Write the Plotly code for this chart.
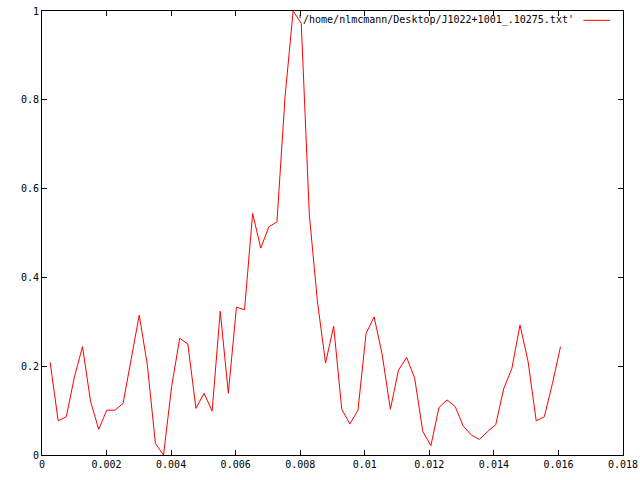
import plotly.graph_objects as go

# sample times (s)
x_vals = [0.000251, 0.000502, 0.000753, 0.001004, 0.001255, 0.001506, 0.001757, 0.002008,
          0.002259, 0.00251, 0.002761, 0.003012, 0.003263, 0.003514, 0.003765, 0.004016,
          0.004267, 0.004518, 0.004769, 0.00502, 0.005271, 0.005522, 0.005773, 0.006024,
          0.006275, 0.006526, 0.006777, 0.007028, 0.007279, 0.00753, 0.007781, 0.008032,
          0.008283, 0.008534, 0.008785, 0.009036, 0.009287, 0.009538, 0.009789, 0.01004,
          0.010291, 0.010542, 0.010793, 0.011044, 0.011295, 0.011546, 0.011797, 0.012048,
          0.012299, 0.01255, 0.012801, 0.013052, 0.013303, 0.013554, 0.013805, 0.014056,
          0.014307, 0.014558, 0.014809, 0.01506, 0.015311, 0.015562, 0.015813, 0.016064]

# normalised profile
y_vals = [0.209, 0.077, 0.086, 0.176, 0.244, 0.120, 0.058, 0.101,
          0.101, 0.116, 0.215, 0.315, 0.203, 0.026, 0.000, 0.154,
          0.263, 0.250, 0.105, 0.139, 0.099, 0.324, 0.139, 0.333,
          0.327, 0.544, 0.466, 0.514, 0.525, 0.807, 1.000, 0.972,
          0.540, 0.345, 0.207, 0.290, 0.103, 0.070, 0.101, 0.274,
          0.311, 0.225, 0.103, 0.191, 0.220, 0.173, 0.053, 0.021,
          0.107, 0.124, 0.109, 0.065, 0.045, 0.035, 0.053, 0.068,
          0.150, 0.195, 0.293, 0.210, 0.077, 0.086, 0.161, 0.244]

series_name = "'/home/nlmcmann/Desktop/J1022+1001_.10275.txt'"

x_ticks = [0, 0.002, 0.004, 0.006, 0.008, 0.010, 0.012, 0.014, 0.016, 0.018]
x_tick_labels = ["0", "0.002", "0.004", "0.006", "0.008", "0.01", "0.012", "0.014", "0.016", "0.018"]
y_ticks = [0, 0.2, 0.4, 0.6, 0.8, 1.0]
y_tick_labels = ["0", "0.2", "0.4", "0.6", "0.8", "1"]

FONT = dict(family="DejaVu Sans Mono", size=10, color="black")

fig = go.Figure()
fig.add_trace(go.Scatter(x=x_vals, y=y_vals, mode="lines",
                         line=dict(color="#ff0000", width=1), name=series_name,
                         showlegend=False, cliponaxis=False))

axis_common = dict(showgrid=False, zeroline=False, showline=True, linecolor="black",
                   linewidth=1, mirror="ticks", ticks="inside", ticklen=5,
                   tickcolor="black", tickwidth=1, tickfont=FONT, automargin=False,
                   ticklabeloverflow="allow")

fig.update_xaxes(range=[0, 0.018], tickmode="array", tickvals=x_ticks,
                 ticktext=x_tick_labels, **axis_common)
fig.update_yaxes(range=[0, 1], tickmode="array", tickvals=y_ticks,
                 ticktext=y_tick_labels, **axis_common)

# gnuplot-style key: text then line sample, top right
fig.add_annotation(xref="paper", yref="paper", x=0.919, y=0.979, xanchor="right",
                   yanchor="middle", text=series_name, showarrow=False, font=FONT)
fig.add_shape(type="line", xref="paper", yref="paper", x0=0.932, x1=0.978,
              y0=0.979, y1=0.979, line=dict(color="#ff0000", width=1))

fig.update_layout(width=640, height=480, margin=dict(l=42, r=17, t=11, b=25),
                  paper_bgcolor="white", plot_bgcolor="white", font=FONT,
                  hovermode=False)

# remove the default page margin so the 640x480 figure fills the window exactly
fig.write_html("out.html", config={"displayModeBar": False},
               post_script="document.body.style.margin='0';document.body.style.overflow='hidden';")
